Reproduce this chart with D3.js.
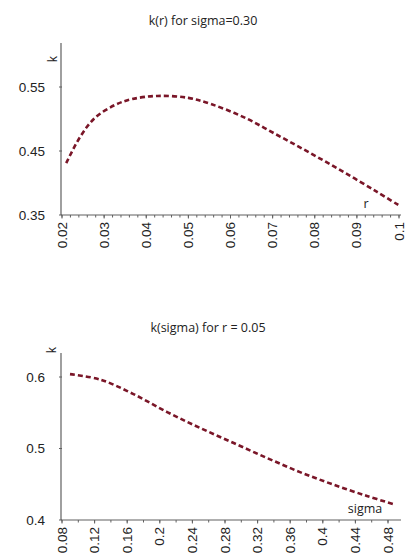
<!DOCTYPE html>
<html><head><meta charset="utf-8">
<script src="https://cdn.jsdelivr.net/npm/d3@7"></script>
<style>body{margin:0;background:#fff}svg{display:block}</style>
</head><body>
<svg id="c" width="407" height="553"></svg>
<script>
// Chart 1: k(r) for sigma = 0.30
const title1 = "k(r) for sigma=0.30";
const rValues = [0.021, 0.0243, 0.0278, 0.0326, 0.0366, 0.0426, 0.05, 0.0553, 0.0631, 0.0711, 0.0789, 0.0868, 0.0947, 0.1];
const kOfR = [0.431, 0.472, 0.5016, 0.522, 0.531, 0.536, 0.533, 0.5235, 0.503, 0.475, 0.4469, 0.4173, 0.3865, 0.365];
const xTicks1 = [0.02, 0.03, 0.04, 0.05, 0.06, 0.07, 0.08, 0.09, 0.1];
const yTicks1 = [0.35, 0.45, 0.55];

// Chart 2: k(sigma) for r = 0.05
const title2 = "k(sigma) for r = 0.05";
const sigmaValues = [0.0898, 0.1266, 0.167, 0.209, 0.249, 0.290, 0.331, 0.372, 0.4125, 0.4542, 0.4861];
const kOfSigma = [0.604, 0.5965, 0.5765, 0.551, 0.529, 0.508, 0.487, 0.467, 0.4497, 0.4336, 0.4224];
const xTicks2 = [0.08, 0.12, 0.16, 0.2, 0.24, 0.28, 0.32, 0.36, 0.4, 0.44, 0.48];
const yTicks2 = [0.4, 0.5, 0.6];

const svg = d3.select("#c");
const lineColor = "#7a1628";
const axisColor = "#606060";

function drawChart(cfg) {
  const g = svg.append("g");
  const x = d3.scaleLinear().domain(cfg.xDom).range(cfg.xRange);
  const y = d3.scaleLinear().domain(cfg.yDom).range(cfg.yRange);

  g.append("text").attr("x", cfg.titleX).attr("y", cfg.titleY)
    .attr("text-anchor", "middle")
    .attr("font-family", "'Open Sans', 'Noto Sans', sans-serif")
    .attr("font-size", 12.5).attr("fill", "#222").text(cfg.title);

  const xAxisG = g.append("g").attr("transform", `translate(0,${cfg.yRange[0]})`);
  xAxisG.append("line").attr("x1", cfg.xRange[0] - 1).attr("x2", cfg.xAxisEnd)
    .attr("stroke", axisColor).attr("stroke-width", 1.2);
  const minor = d3.range(cfg.xDom[0], x.invert(cfg.xAxisEnd) + 1e-9, cfg.minorStep);
  xAxisG.selectAll("line.mn").data(minor).join("line").attr("class", "mn")
    .attr("x1", d => x(d)).attr("x2", d => x(d)).attr("y1", 0).attr("y2", 2.5)
    .attr("stroke", axisColor).attr("stroke-width", 1);
  xAxisG.selectAll("line.mj").data(cfg.xTicks).join("line").attr("class", "mj")
    .attr("x1", d => x(d)).attr("x2", d => x(d)).attr("y1", 0).attr("y2", 3.5)
    .attr("stroke", axisColor).attr("stroke-width", 1);
  xAxisG.selectAll("text").data(cfg.xTicks).join("text")
    .attr("transform", d => `translate(${x(d) + 4.5},7) rotate(-90)`)
    .attr("text-anchor", "end")
    .attr("font-family", "'Liberation Sans', Arial, sans-serif")
    .attr("font-size", 13.5).attr("fill", "#222")
    .text(d => String(+d.toFixed(3)));

  const yAxisG = g.append("g").attr("transform", `translate(${cfg.xRange[0] - 1},0)`);
  yAxisG.append("line").attr("y1", cfg.yRange[0]).attr("y2", cfg.yAxisTop)
    .attr("stroke", axisColor).attr("stroke-width", 1.2);
  yAxisG.selectAll("line.t").data(cfg.yTicks).join("line").attr("class", "t")
    .attr("x1", -2).attr("x2", 1).attr("y1", d => y(d)).attr("y2", d => y(d))
    .attr("stroke", axisColor).attr("stroke-width", 1);
  yAxisG.selectAll("text").data(cfg.yTicks).join("text")
    .attr("x", -16).attr("y", d => y(d) + 4.5)
    .attr("text-anchor", "end")
    .attr("font-family", "'Liberation Sans', Arial, sans-serif")
    .attr("font-size", 13.5).attr("fill", "#222")
    .text(d => String(d));

  g.append("text")
    .attr("transform", `translate(${cfg.kLabelX},${cfg.kLabelY}) rotate(-90)`)
    .attr("text-anchor", "middle")
    .attr("font-family", "'Open Sans', 'Noto Sans', sans-serif")
    .attr("font-size", 12).attr("fill", "#222").text("k");
  g.append("text").attr("x", cfg.xLabelX).attr("y", cfg.xLabelY)
    .attr("text-anchor", "middle")
    .attr("font-family", "'Open Sans', 'Noto Sans', sans-serif")
    .attr("font-size", 12.5).attr("fill", "#222").text(cfg.xLabel);

  const line = d3.line().x(d => x(d[0])).y(d => y(d[1])).curve(d3.curveCatmullRom.alpha(0.5));
  g.append("path").datum(d3.zip(cfg.xs, cfg.ys))
    .attr("d", line).attr("fill", "none")
    .attr("stroke", lineColor).attr("stroke-width", 2.6)
    .attr("stroke-dasharray", "5,3");
}

drawChart({
  title: title1, titleX: 203, titleY: 25,
  xDom: [0.02, 0.1], xRange: [62, 399], xAxisEnd: 401, minorStep: 0.002,
  yDom: [0.35, 0.55], yRange: [215, 87], yAxisTop: 43,
  xTicks: xTicks1, yTicks: yTicks1,
  xs: rValues, ys: kOfR,
  kLabelX: 57, kLabelY: 59, xLabel: "r", xLabelX: 366, xLabelY: 208
});

drawChart({
  title: title2, titleX: 208, titleY: 332,
  xDom: [0.08, 0.48], xRange: [62, 388], xAxisEnd: 401, minorStep: 0.02,
  yDom: [0.4, 0.6], yRange: [520, 377], yAxisTop: 353,
  xTicks: xTicks2, yTicks: yTicks2,
  xs: sigmaValues, ys: kOfSigma,
  kLabelX: 56, kLabelY: 350, xLabel: "sigma", xLabelX: 365, xLabelY: 513
});
</script>
</body></html>
